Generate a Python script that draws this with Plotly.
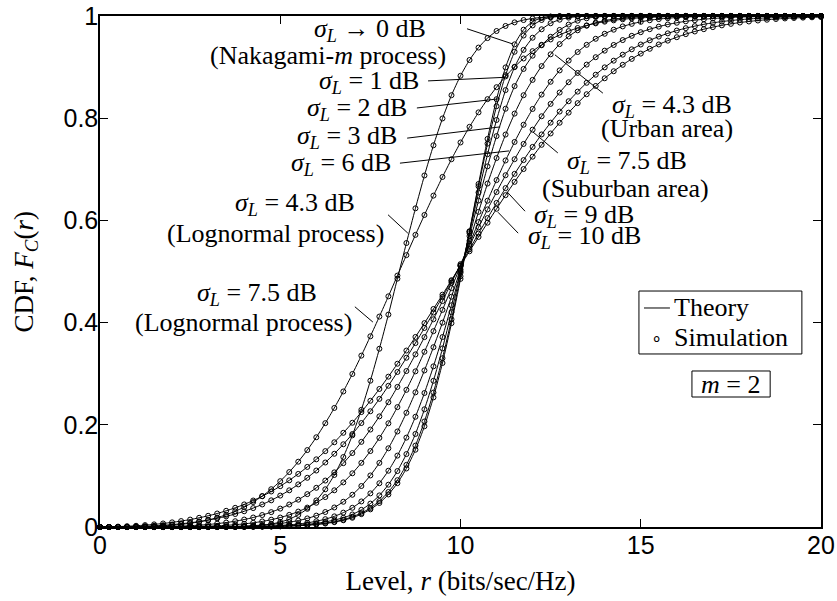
import plotly.graph_objects as go

# ---------------- data ----------------
r_level = [
    0, 0.25, 0.5, 0.75, 1, 1.25, 1.5, 1.75,
    2, 2.25, 2.5, 2.75, 3, 3.25, 3.5, 3.75,
    4, 4.25, 4.5, 4.75, 5, 5.25, 5.5, 5.75,
    6, 6.25, 6.5, 6.75, 7, 7.25, 7.5, 7.75,
    8, 8.25, 8.5, 8.75, 9, 9.25, 9.5, 9.75,
    10, 10.25, 10.5, 10.75, 11, 11.25, 11.5, 11.75,
    12, 12.25, 12.5, 12.75, 13, 13.25, 13.5, 13.75,
    14, 14.25, 14.5, 14.75, 15, 15.25, 15.5, 15.75,
    16, 16.25, 16.5, 16.75, 17, 17.25, 17.5, 17.75,
    18, 18.25, 18.5, 18.75, 19, 19.25, 19.5, 19.75,
    20,
]

# sigma_L -> 0 dB (Nakagami-m process)
cdf_sigma0 = [
    0, 0, 0, 0, 0, 0, 0, 0,
    0, 0, 0, 0, 0.0001, 0.0001, 0.0002, 0.0002,
    0.0003, 0.0005, 0.0007, 0.0009, 0.0013, 0.0018, 0.0025, 0.0035,
    0.0049, 0.0068, 0.0095, 0.0132, 0.0181, 0.0251, 0.0345, 0.0470,
    0.0637, 0.0858, 0.1145, 0.1512, 0.1971, 0.2536, 0.3209, 0.3989,
    0.4855, 0.5780, 0.6713, 0.7595, 0.8372, 0.8994, 0.9445, 0.9732,
    0.9890, 0.9963, 0.9990, 0.9998, 1, 1, 1, 1,
    1, 1, 1, 1, 1, 1, 1, 1,
    1, 1, 1, 1, 1, 1, 1, 1,
    1, 1, 1, 1, 1, 1, 1, 1,
    1,
]

cdf_sigma1 = [
    0, 0, 0, 0, 0, 0, 0, 0,
    0, 0, 0, 0, 0.0001, 0.0001, 0.0002, 0.0003,
    0.0004, 0.0005, 0.0007, 0.0010, 0.0014, 0.0020, 0.0028, 0.0039,
    0.0053, 0.0075, 0.0104, 0.0143, 0.0200, 0.0272, 0.0372, 0.0507,
    0.0685, 0.0916, 0.1216, 0.1593, 0.2065, 0.2631, 0.3303, 0.4065,
    0.4907, 0.5787, 0.6668, 0.7502, 0.8235, 0.8843, 0.9300, 0.9618,
    0.9815, 0.9922, 0.9973, 0.9993, 0.9999, 1, 1, 1,
    1, 1, 1, 1, 1, 1, 1, 1,
    1, 1, 1, 1, 1, 1, 1, 1,
    1, 1, 1, 1, 1, 1, 1, 1,
    1,
]

cdf_sigma2 = [
    0, 0, 0, 0, 0, 0, 0, 0,
    0, 0, 0, 0, 0.0001, 0.0002, 0.0002, 0.0003,
    0.0005, 0.0007, 0.0010, 0.0014, 0.0019, 0.0027, 0.0037, 0.0052,
    0.0072, 0.0099, 0.0136, 0.0180, 0.0245, 0.0336, 0.0458, 0.0618,
    0.0828, 0.1095, 0.1427, 0.1821, 0.2304, 0.2861, 0.3495, 0.4203,
    0.4975, 0.5750, 0.6546, 0.7295, 0.7965, 0.8550, 0.9000, 0.9337,
    0.9575, 0.9740, 0.9858, 0.9928, 0.9968, 0.9988, 0.9996, 0.9999,
    1, 1, 1, 1, 1, 1, 1, 1,
    1, 1, 1, 1, 1, 1, 1, 1,
    1, 1, 1, 1, 1, 1, 1, 1,
    1,
]

cdf_sigma3 = [
    0, 0, 0, 0, 0, 0, 0, 0,
    0.0001, 0.0001, 0.0001, 0.0002, 0.0002, 0.0003, 0.0004, 0.0006,
    0.0008, 0.0011, 0.0016, 0.0022, 0.0031, 0.0042, 0.0059, 0.0081,
    0.0112, 0.0153, 0.0208, 0.0281, 0.0376, 0.0500, 0.0658, 0.0856,
    0.1101, 0.1397, 0.1749, 0.2157, 0.2622, 0.3144, 0.3717, 0.4340,
    0.5002, 0.5693, 0.6388, 0.7057, 0.7650, 0.8185, 0.8628, 0.8964,
    0.9223, 0.9428, 0.9593, 0.9727, 0.9832, 0.9908, 0.9955, 0.9980,
    0.9992, 0.9997, 0.9999, 1, 1, 1, 1, 1,
    1, 1, 1, 1, 1, 1, 1, 1,
    1, 1, 1, 1, 1, 1, 1, 1,
    1,
]

cdf_sigma4p3 = [
    0, 0, 0, 0, 0, 0, 0, 0,
    0.0001, 0.0002, 0.0003, 0.0004, 0.0005, 0.0007, 0.0010, 0.0014,
    0.0020, 0.0027, 0.0038, 0.0051, 0.0069, 0.0094, 0.0126, 0.0168,
    0.0223, 0.0293, 0.0382, 0.0494, 0.0631, 0.0802, 0.1009, 0.1254,
    0.1540, 0.1869, 0.2235, 0.2635, 0.3064, 0.3519, 0.3999, 0.4506,
    0.5040, 0.5599, 0.6167, 0.6721, 0.7220, 0.7680, 0.8090, 0.8450,
    0.8750, 0.9020, 0.9250, 0.9450, 0.9600, 0.9720, 0.9810, 0.9870,
    0.9910, 0.9940, 0.9960, 0.9975, 0.9984, 0.9990, 0.9994, 0.9996,
    0.9998, 0.9999, 1, 1, 1, 1, 1, 1,
    1, 1, 1, 1, 1, 1, 1, 1,
    1,
]

cdf_sigma6 = [
    0, 0, 0, 0, 0, 0, 0.0001, 0.0002,
    0.0003, 0.0005, 0.0008, 0.0012, 0.0017, 0.0023, 0.0033, 0.0045,
    0.0061, 0.0082, 0.0109, 0.0143, 0.0185, 0.0237, 0.0302, 0.0380,
    0.0474, 0.0586, 0.0718, 0.0873, 0.1051, 0.1255, 0.1486, 0.1744,
    0.2029, 0.2346, 0.2684, 0.3046, 0.3429, 0.3832, 0.4249, 0.4675,
    0.5107, 0.5540, 0.5967, 0.6385, 0.6789, 0.7173, 0.7535, 0.7872,
    0.8181, 0.8462, 0.8713, 0.8935, 0.9128, 0.9295, 0.9436, 0.9554,
    0.9652, 0.9732, 0.9796, 0.9846, 0.9886, 0.9917, 0.9940, 0.9957,
    0.9970, 0.9979, 0.9986, 0.9990, 0.9994, 0.9996, 0.9997, 0.9998,
    0.9999, 1, 1, 1, 1, 1, 1, 1,
    1,
]

cdf_sigma7p5 = [
    0, 0, 0, 0.0001, 0.0002, 0.0003, 0.0005, 0.0008,
    0.0012, 0.0018, 0.0026, 0.0036, 0.0049, 0.0066, 0.0087, 0.0113,
    0.0146, 0.0186, 0.0234, 0.0291, 0.0360, 0.0440, 0.0534, 0.0643,
    0.0767, 0.0909, 0.1069, 0.1249, 0.1447, 0.1666, 0.1907, 0.2165,
    0.2442, 0.2741, 0.3052, 0.3378, 0.3716, 0.4065, 0.4421, 0.4782,
    0.5145, 0.5507, 0.5864, 0.6215, 0.6555, 0.6884, 0.7198, 0.7496,
    0.7776, 0.8038, 0.8280, 0.8502, 0.8704, 0.8886, 0.9049, 0.9194,
    0.9322, 0.9433, 0.9529, 0.9612, 0.9683, 0.9742, 0.9792, 0.9834,
    0.9868, 0.9896, 0.9918, 0.9937, 0.9951, 0.9963, 0.9972, 0.9979,
    0.9984, 0.9988, 0.9991, 0.9993, 0.9995, 0.9996, 0.9997, 0.9998,
    0.9999,
]

cdf_sigma9 = [
    0, 0.0001, 0.0002, 0.0006, 0.0010, 0.0016, 0.0024, 0.0035,
    0.0047, 0.0064, 0.0083, 0.0106, 0.0135, 0.0168, 0.0208, 0.0254,
    0.0308, 0.0370, 0.0441, 0.0522, 0.0615, 0.0718, 0.0834, 0.0963,
    0.1105, 0.1262, 0.1433, 0.1619, 0.1819, 0.2034, 0.2265, 0.2507,
    0.2763, 0.3034, 0.3312, 0.3599, 0.3895, 0.4197, 0.4503, 0.4813,
    0.5124, 0.5435, 0.5742, 0.6045, 0.6342, 0.6632, 0.6911, 0.7180,
    0.7438, 0.7682, 0.7913, 0.8130, 0.8332, 0.8520, 0.8693, 0.8851,
    0.8995, 0.9126, 0.9243, 0.9348, 0.9442, 0.9524, 0.9597, 0.9660,
    0.9715, 0.9762, 0.9802, 0.9837, 0.9866, 0.9891, 0.9911, 0.9928,
    0.9942, 0.9954, 0.9963, 0.9971, 0.9977, 0.9982, 0.9986, 0.9989,
    0.9992,
]

cdf_sigma10 = [
    0, 0.0002, 0.0008, 0.0015, 0.0024, 0.0037, 0.0051, 0.0069,
    0.0091, 0.0116, 0.0145, 0.0180, 0.0219, 0.0264, 0.0317, 0.0375,
    0.0442, 0.0518, 0.0602, 0.0695, 0.0799, 0.0913, 0.1039, 0.1176,
    0.1324, 0.1485, 0.1658, 0.1843, 0.2040, 0.2249, 0.2470, 0.2701,
    0.2942, 0.3195, 0.3453, 0.3719, 0.3990, 0.4267, 0.4547, 0.4830,
    0.5113, 0.5396, 0.5677, 0.5955, 0.6227, 0.6494, 0.6754, 0.7005,
    0.7247, 0.7479, 0.7701, 0.7911, 0.8109, 0.8295, 0.8469, 0.8631,
    0.8781, 0.8919, 0.9045, 0.9160, 0.9264, 0.9358, 0.9443, 0.9518,
    0.9585, 0.9645, 0.9697, 0.9742, 0.9782, 0.9817, 0.9846, 0.9872,
    0.9893, 0.9912, 0.9927, 0.9941, 0.9952, 0.9961, 0.9968, 0.9974,
    0.9980,
]

# pure lognormal processes
cdf_logn4p3 = [
    0, 0, 0, 0, 0, 0, 0, 0,
    0, 0, 0, 0, 0.0001, 0.0001, 0.0003, 0.0006,
    0.0011, 0.0019, 0.0034, 0.0058, 0.0096, 0.0153, 0.0237, 0.0356,
    0.0520, 0.0738, 0.1018, 0.1369, 0.1794, 0.2293, 0.2863, 0.3488,
    0.4157, 0.4860, 0.5557, 0.6236, 0.6879, 0.7470, 0.7995, 0.8450,
    0.8830, 0.9139, 0.9382, 0.9568, 0.9706, 0.9805, 0.9875, 0.9921,
    0.9952, 0.9972, 0.9984, 0.9991, 0.9995, 0.9997, 0.9999, 0.9999,
    1, 1, 1, 1, 1, 1, 1, 1,
    1, 1, 1, 1, 1, 1, 1, 1,
    1, 1, 1, 1, 1, 1, 1, 1,
    1,
]

cdf_logn7p5 = [
    0, 0, 0.0001, 0.0002, 0.0004, 0.0008, 0.0014, 0.0023,
    0.0035, 0.0052, 0.0073, 0.0101, 0.0137, 0.0183, 0.0239, 0.0307,
    0.0390, 0.0488, 0.0604, 0.0740, 0.0897, 0.1075, 0.1278, 0.1505,
    0.1756, 0.2032, 0.2330, 0.2652, 0.2994, 0.3354, 0.3732, 0.4118,
    0.4514, 0.4920, 0.5320, 0.5717, 0.6106, 0.6485, 0.6850, 0.7197,
    0.7525, 0.7831, 0.8114, 0.8373, 0.8607, 0.8818, 0.9005, 0.9169,
    0.9312, 0.9436, 0.9541, 0.9630, 0.9704, 0.9765, 0.9816, 0.9856,
    0.9889, 0.9915, 0.9936, 0.9952, 0.9964, 0.9973, 0.9981, 0.9986,
    0.9990, 0.9993, 0.9995, 0.9997, 0.9998, 0.9998, 0.9999, 0.9999,
    1, 1, 1, 1, 1, 1, 1, 1,
    1,
]

x_ticks = [0, 5, 10, 15, 20]
y_ticks = [0, 0.2, 0.4, 0.6, 0.8, 1]
y_tick_text = ["0", "0.2", "0.4", "0.6", "0.8", "1"]

curves = [cdf_sigma0, cdf_sigma1, cdf_sigma2, cdf_sigma3, cdf_sigma4p3,
          cdf_sigma6, cdf_sigma7p5, cdf_sigma9, cdf_sigma10,
          cdf_logn4p3, cdf_logn7p5]

SERIF = "Liberation Serif, Times New Roman, serif"
SANS = "Liberation Sans, Arial, sans-serif"
SIG = "<i>σ</i><sub><i>L</i></sub>"

fig = go.Figure()
for ys in curves:
    fig.add_trace(go.Scatter(
        x=r_level, y=ys, mode="lines+markers",
        line=dict(color="black", width=1, shape="spline", smoothing=0.6),
        marker=dict(symbol="circle-open", size=5, color="black",
                    line=dict(width=1, color="black")),
        cliponaxis=False, showlegend=False, hoverinfo="skip"))

# text labels (x, y, text)
labels = [
    (7.49, 0.972, SIG + " → 0 dB"),
    (6.32, 0.922, "(Nakagami-<i>m</i> process)"),
    (7.46, 0.871, SIG + " = 1 dB"),
    (7.13, 0.818, SIG + " = 2 dB"),
    (6.85, 0.763, SIG + " = 3 dB"),
    (6.69, 0.710, SIG + " = 6 dB"),
    (5.41, 0.632, SIG + " = 4.3 dB"),
    (4.88, 0.575, "(Lognormal process)"),
    (4.36, 0.456, SIG + " = 7.5 dB"),
    (3.99, 0.401, "(Lognormal process)"),
    (15.87, 0.824, SIG + " = 4.3 dB"),
    (15.73, 0.779, "(Urban area)"),
    (14.62, 0.714, SIG + " = 7.5 dB"),
    (14.59, 0.663, "(Suburban area)"),
    (13.43, 0.609, SIG + " = 9 dB"),
    (13.43, 0.568, SIG + " = 10 dB"),
]
for x, y, t in labels:
    fig.add_annotation(x=x, y=y, xref="x", yref="y", text=t, showarrow=False,
                       font=dict(family=SERIF, size=26, color="black"),
                       xanchor="center", yanchor="middle")

# pointer lines (x0, y0, x1, y1)
pointers = [
    (10.18, 0.975, 11.46, 0.945),
    (9.10, 0.873, 11.23, 0.880),
    (8.79, 0.820, 11.08, 0.838),
    (8.52, 0.761, 11.10, 0.783),
    (8.32, 0.712, 11.35, 0.736),
    (7.99, 0.611, 8.54, 0.575),
    (7.07, 0.431, 7.57, 0.401),
    (13.95, 0.849, 12.62, 0.924),
    (12.70, 0.732, 12.01, 0.773),
    (11.79, 0.618, 11.29, 0.656),
    (11.60, 0.575, 11.04, 0.616),
]
for x0, y0, x1, y1 in pointers:
    fig.add_shape(type="line", xref="x", yref="y", x0=x0, y0=y0, x1=x1, y1=y1,
                  line=dict(color="black", width=1))

# legend box
fig.add_shape(type="rect", xref="x", yref="y", x0=14.95, x1=19.47, y0=0.3386, y1=0.4618,
              line=dict(color="black", width=1), fillcolor="white", layer="above")
fig.add_shape(type="line", xref="x", yref="y", x0=15.09, x1=15.81, y0=0.4286, y1=0.4286,
              line=dict(color="black", width=1))
fig.add_annotation(x=15.88, y=0.4286, xref="x", yref="y", text="Theory", showarrow=False,
                   xanchor="left", yanchor="middle",
                   font=dict(family=SERIF, size=26, color="black"))
fig.add_annotation(x=15.45, y=0.3705, xref="x", yref="y", text="∘", showarrow=False,
                   xanchor="center", yanchor="middle",
                   font=dict(family=SERIF, size=18, color="black"))
fig.add_annotation(x=15.88, y=0.3705, xref="x", yref="y", text="Simulation", showarrow=False,
                   xanchor="left", yanchor="middle",
                   font=dict(family=SERIF, size=26, color="black"))

# m = 2 box
fig.add_shape(type="rect", xref="x", yref="y", x0=16.42, x1=18.59, y0=0.2544, y1=0.3053,
              line=dict(color="black", width=1))
fig.add_annotation(x=17.50, y=0.2798, xref="x", yref="y", text="<i>m</i> = 2", showarrow=False,
                   xanchor="center", yanchor="middle",
                   font=dict(family=SERIF, size=26, color="black"))

# y-axis title placed as a rotated annotation (fixed position left of tick labels)
fig.add_annotation(xref="paper", yref="paper", x=0, y=0.5, xshift=-75,
                   text="CDF, <i>F</i><sub><i>C</i></sub>(<i>r</i>)", textangle=-90,
                   showarrow=False, xanchor="center", yanchor="middle",
                   font=dict(family=SERIF, size=27, color="black"))

axis_common = dict(
    showline=True, linecolor="black", linewidth=1.5, mirror="ticks",
    ticks="inside", ticklen=8, tickwidth=1, tickcolor="black",
    showgrid=False, zeroline=False, automargin=False,
    tickfont=dict(family=SANS, size=25, color="black"),
)

fig.update_layout(
    width=837, height=601,
    margin=dict(l=100, r=16, t=16, b=74),
    paper_bgcolor="white", plot_bgcolor="white",
    xaxis=dict(range=[0, 20], tickvals=x_ticks, ticklabelstandoff=-5,
               title=dict(text="Level, <i>r</i> (bits/sec/Hz)",
                          font=dict(family=SERIF, size=27, color="black"), standoff=13),
               **axis_common),
    yaxis=dict(range=[0, 1], tickvals=y_ticks, ticktext=y_tick_text, ticklabelstandoff=-5,
               **axis_common),
)

fig.write_html("out.html")
